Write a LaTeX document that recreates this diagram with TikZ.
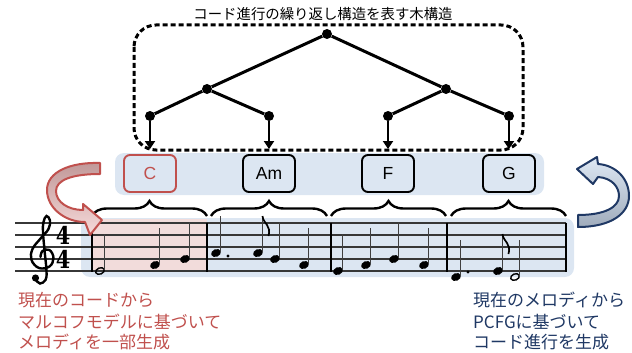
\documentclass[tikz,border=0pt]{standalone}
\usepackage{fontspec}
\newfontfamily\jp{Noto Sans CJK JP}
\newfontfamily\arialf{Liberation Sans}
\newfontfamily\tsfont{DejaVu Serif}
\usetikzlibrary{arrows.meta,decorations.pathreplacing}
\definecolor{band}{RGB}{220,230,242}
\definecolor{pinkbg}{RGB}{242,220,219}
\definecolor{redc}{RGB}{192,80,77}
\definecolor{navy}{RGB}{31,56,100}
\definecolor{staffc}{RGB}{55,55,55}
\newcommand\mqnote[2]{%
  \fill[rotate around={22:(#1,#2)}] (#1,#2) ellipse [x radius=5.1pt, y radius=3.8pt];
  \draw[stemline] ({#1+4.5},{#2-1}) -- ({#1+4.5},{#2-37});}
\newcommand\mhnote[2]{%
  \draw[line width=1.4pt, rotate around={22:(#1,#2)}] (#1,#2) ellipse [x radius=4.5pt, y radius=3.1pt];
  \draw[stemline] ({#1+4.5},{#2-1}) -- ({#1+4.5},{#2-37});}
\newcommand\meflag[2]{%
  \draw[line width=1.7pt] ({#1+4.5},{#2-37}) .. controls ({#1+5.3},{#2-29}) and ({#1+13.5},{#2-28}) .. ({#1+10.5},{#2-17});}
\begin{document}
\begin{tikzpicture}[x=1pt,y=-1pt,
  chordbox/.style={draw, line width=1.9pt, rounded corners=6pt, minimum width=52pt, minimum height=37pt, inner sep=0pt, font=\arialf\fontsize{17.5}{17.5}\selectfont},
  treedot/.style={circle, fill, inner sep=0pt, minimum size=10pt},
  treeline/.style={line width=3pt},
  leafarrow/.style={line width=2.8pt, -{Triangle[length=8pt,width=10pt]}, shorten >=5pt},
  bracestyle/.style={decorate, decoration={brace, amplitude=15pt}, line width=2.4pt},
  jptext/.style={font=\jp\fontsize{17}{21}\selectfont, inner sep=0pt, anchor=base west},
  stemline/.style={line width=1pt, black!75},
  staffline/.style={line width=1.2pt, staffc},
  barline/.style={line width=2.7pt},
  tsig/.style={font=\tsfont\fontsize{24.5}{24.5}\selectfont\bfseries, xscale=0.85, inner sep=0pt, align=center, anchor=north}
]
\useasboundingbox (0,0) rectangle (632,353);
% backgrounds
\fill[band, rounded corners=9pt] (115,153) rectangle (544,195);
\fill[band, rounded corners=9pt] (81,218) rectangle (574,277);
\fill[pinkbg] (92,219) rectangle (207,272);
% staff
\foreach \yy in {223,235,247,259,271} \draw[staffline] (15,\yy) -- (566,\yy);
\foreach \xx in {92,207,331,447} \draw[barline] (\xx,222.5) -- (\xx,271.6);
\draw[line width=2pt] (566,222.5) -- (566,271.6);
% clef
\draw[line width=2.4pt, line cap=round] plot[smooth, tension=0.65] coordinates {(36,280) (40,283.5) (45.5,280) (46.5,271) (44.5,250) (43,232) (43.5,222) (46.5,216) (50,220.5) (48.5,229) (41,238) (32.5,249) (31.5,260) (39,268) (49.5,266.5) (53.5,258) (49.5,250) (42.5,251) (40.5,257)};
\fill (35.5,278) circle (3.6pt);
% time signature
\node[tsig] (ts) at (63,226) {4\\4};
% notes measure 1
\mhnote{100}{271}
\mqnote{155}{265}
\mqnote{185}{259}
% measure 2
\mqnote{216}{253} \fill (228,256) circle (1.7pt);
\mqnote{258}{253} \meflag{258}{253}
\mqnote{275}{259}
\mqnote{304}{265}
% measure 3
\mqnote{338}{271}
\mqnote{366}{265}
\mqnote{394}{259}
\mqnote{424}{265}
% measure 4
\mqnote{456}{277} \fill (468,272) circle (1.7pt);
\mqnote{498}{271} \meflag{498}{271}
\mhnote{515}{277}
% braces
\draw[bracestyle] (92,216) -- (207,216);
\draw[bracestyle] (211,216) -- (327,216);
\draw[bracestyle] (331,216) -- (446,216);
\draw[bracestyle] (451,216) -- (566,216);
% chord boxes
\node[chordbox, draw=redc, text=redc] (cC) at (150,173.5) {C};
\node[chordbox] (cAm) at (269,173.5) {Am};
\node[chordbox] (cF) at (388,173.5) {F};
\node[chordbox] (cG) at (509,173.5) {G};
% tree
\draw[line width=3pt, dash pattern=on 5pt off 3pt, rounded corners=22pt] (134,25) rectangle (523,150);
\node[treedot] (root) at (327,34) {};
\node[treedot] (n1) at (207,89) {};
\node[treedot] (n2) at (446,89) {};
\node[treedot] (l1) at (150,116) {};
\node[treedot] (l2) at (269,116) {};
\node[treedot] (l3) at (388,116) {};
\node[treedot] (l4) at (509,116) {};
\draw[treeline] (root) -- (n1);
\draw[treeline] (root) -- (n2);
\draw[treeline] (n1) -- (l1);
\draw[treeline] (n1) -- (l2);
\draw[treeline] (n2) -- (l3);
\draw[treeline] (n2) -- (l4);
\draw[leafarrow] (l1) -- (cC);
\draw[leafarrow] (l2) -- (cAm);
\draw[leafarrow] (l3) -- (cF);
\draw[leafarrow] (l4) -- (cG);
% title
\node[font=\jp\fontsize{14.4}{14.4}\selectfont, inner sep=0pt, anchor=base] (title) at (323,19.5) {コード進行の繰り返し構造を表す木構造};
% curved arrows
\draw[redc, line width=2pt, line join=round, top color={rgb,255:red,192;green,152;blue,152}, bottom color={rgb,255:red,247;green,218;blue,218}]
  (100,163) .. controls (70,162) and (47,172) .. (47,190) .. controls (47,208) and (65,222) .. (85,222)
  -- (90,235) -- (102,220) -- (83,204) -- (83,210)
  .. controls (68,210) and (56,202) .. (56,191) .. controls (56,180) and (72,174) .. (100,174) -- cycle;
\draw[navy, line width=2pt, line join=round, top color={rgb,255:red,222;green,232;blue,244}, bottom color={rgb,255:red,160;green,172;blue,188}]
  (578,227) .. controls (612,227) and (629,213) .. (629,196) .. controls (629,178) and (615,165) .. (598,164)
  -- (597,157) -- (577,169) -- (593,184) -- (598,177)
  .. controls (612,178) and (619,187) .. (619,196) .. controls (619,207) and (605,215) .. (578,215) -- cycle;
% texts
\node[jptext, text=redc] (lt1) at (18,306) {現在のコードから};
\node[jptext, text=redc] (lt2) at (18,328) {マルコフモデルに基づいて};
\node[jptext, text=redc] (lt3) at (18,348) {メロディを一部生成};
\node[jptext, text=navy] (rt1) at (473,306) {現在のメロディから};
\node[jptext, text=navy] (rt2) at (473,328) {PCFGに基づいて};
\node[jptext, text=navy] (rt3) at (473,348) {コード進行を生成};
\end{tikzpicture}
\end{document}
